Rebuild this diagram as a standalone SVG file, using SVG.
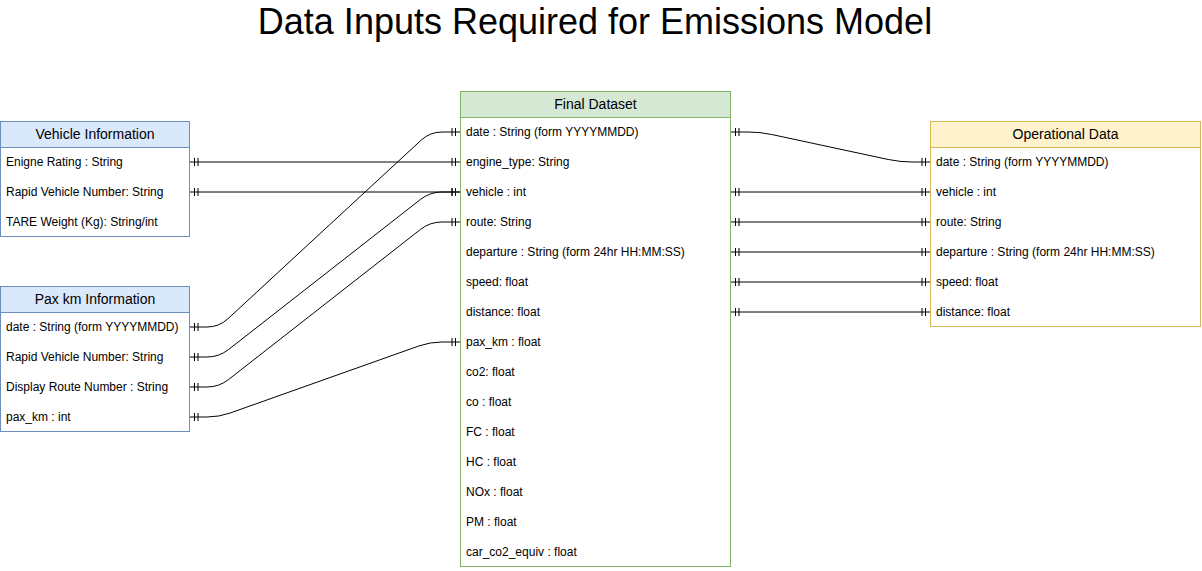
<svg xmlns="http://www.w3.org/2000/svg" width="1202" height="571" viewBox="0 0 1202 571">
<style>
.title{font-family:"Liberation Sans",Arial,sans-serif;font-size:36px;fill:#000;text-anchor:middle}
.hdr{font-family:"Liberation Sans",Arial,sans-serif;font-size:14px;fill:#000;text-anchor:middle}
.row{font-family:"Liberation Sans",Arial,sans-serif;font-size:12px;fill:#000}
.blue{fill:#dae8fc;stroke:#6c8ebf}
.green{fill:#d5e8d4;stroke:#82b366}
.yellow{fill:#fff2cc;stroke:#d6b656}
.body{fill:#fff}
.edge{fill:none;stroke:#000;stroke-width:1;marker-start:url(#one);marker-end:url(#one)}
</style>
<defs>
<marker id="one" viewBox="-12 -6 12 12" refX="0" refY="0" markerWidth="12" markerHeight="12" markerUnits="userSpaceOnUse" orient="auto-start-reverse" overflow="visible">
<path d="M-5,-4V4M-8.5,-4V4" stroke="#000" stroke-width="1" fill="none"/>
</marker>
</defs>
<rect width="1202" height="571" fill="#fff"/>
<text class="title" x="595" y="34">Data Inputs Required for Emissions Model</text>

<g id="connectors">
<path class="edge" d="M189.5,162H460.5"/>
<path class="edge" d="M189.5,192H460.5"/>
<path class="edge" d="M189.5,327H207Q219,327 227.81,318.86L421.19,140.14Q430,132 442,132H460.5"/>
<path class="edge" d="M189.5,357H207Q219,357 228.45,349.61L420.55,199.39Q430,192 442,192H460.5"/>
<path class="edge" d="M189.5,387H207Q219,387 228.45,379.61L420.55,229.39Q430,222 442,222H460.5"/>
<path class="edge" d="M189.5,417H207Q219,417 230.31,412.98L418.69,346.02Q430,342 442,342H460.5"/>
<path class="edge" d="M730.5,132H748Q760,132 771.73,134.51L888.27,159.49Q900,162 912,162H930.5"/>
<path class="edge" d="M730.5,192H930.5"/>
<path class="edge" d="M730.5,222H930.5"/>
<path class="edge" d="M730.5,252H930.5"/>
<path class="edge" d="M730.5,282H930.5"/>
<path class="edge" d="M730.5,312H930.5"/>
</g>

<g id="vehicle-information">
<rect class="blue" x="0.5" y="121.5" width="189" height="115"/>
<rect class="body" x="1" y="147.5" width="188" height="88.5"/>
<line x1="0.5" y1="147.5" x2="189.5" y2="147.5" stroke="#6c8ebf"/>
<text class="hdr" x="95" y="139">Vehicle Information</text>
<text class="row" x="6" y="166">Enigne Rating : String</text>
<text class="row" x="6" y="196">Rapid Vehicle Number: String</text>
<text class="row" x="6" y="226">TARE Weight (Kg): String/int</text>
</g>

<g id="pax-km-information">
<rect class="blue" x="0.5" y="286.5" width="189" height="145"/>
<rect class="body" x="1" y="312.5" width="188" height="118.5"/>
<line x1="0.5" y1="312.5" x2="189.5" y2="312.5" stroke="#6c8ebf"/>
<text class="hdr" x="95" y="304">Pax km Information</text>
<text class="row" x="6" y="331">date : String (form YYYYMMDD)</text>
<text class="row" x="6" y="361">Rapid Vehicle Number: String</text>
<text class="row" x="6" y="391">Display Route Number : String</text>
<text class="row" x="6" y="421">pax_km : int</text>
</g>

<g id="final-dataset">
<rect class="green" x="460.5" y="91.5" width="270" height="475"/>
<rect class="body" x="461" y="117.5" width="269" height="448.5"/>
<line x1="460.5" y1="117.5" x2="730.5" y2="117.5" stroke="#82b366"/>
<text class="hdr" x="595.5" y="109">Final Dataset</text>
<text class="row" x="466" y="136">date : String (form YYYYMMDD)</text>
<text class="row" x="466" y="166">engine_type: String</text>
<text class="row" x="466" y="196">vehicle : int</text>
<text class="row" x="466" y="226">route: String</text>
<text class="row" x="466" y="256">departure : String (form 24hr HH:MM:SS)</text>
<text class="row" x="466" y="286">speed: float</text>
<text class="row" x="466" y="316">distance: float</text>
<text class="row" x="466" y="346">pax_km : float</text>
<text class="row" x="466" y="376">co2: float</text>
<text class="row" x="466" y="406">co : float</text>
<text class="row" x="466" y="436">FC : float</text>
<text class="row" x="466" y="466">HC : float</text>
<text class="row" x="466" y="496">NOx : float</text>
<text class="row" x="466" y="526">PM : float</text>
<text class="row" x="466" y="556">car_co2_equiv : float</text>
</g>

<g id="operational-data">
<rect class="yellow" x="930.5" y="121.5" width="270" height="205"/>
<rect class="body" x="931" y="147.5" width="269" height="178.5"/>
<line x1="930.5" y1="147.5" x2="1200.5" y2="147.5" stroke="#d6b656"/>
<text class="hdr" x="1065.5" y="139">Operational Data</text>
<text class="row" x="936" y="166">date : String (form YYYYMMDD)</text>
<text class="row" x="936" y="196">vehicle : int</text>
<text class="row" x="936" y="226">route: String</text>
<text class="row" x="936" y="256">departure : String (form 24hr HH:MM:SS)</text>
<text class="row" x="936" y="286">speed: float</text>
<text class="row" x="936" y="316">distance: float</text>
</g>
</svg>
